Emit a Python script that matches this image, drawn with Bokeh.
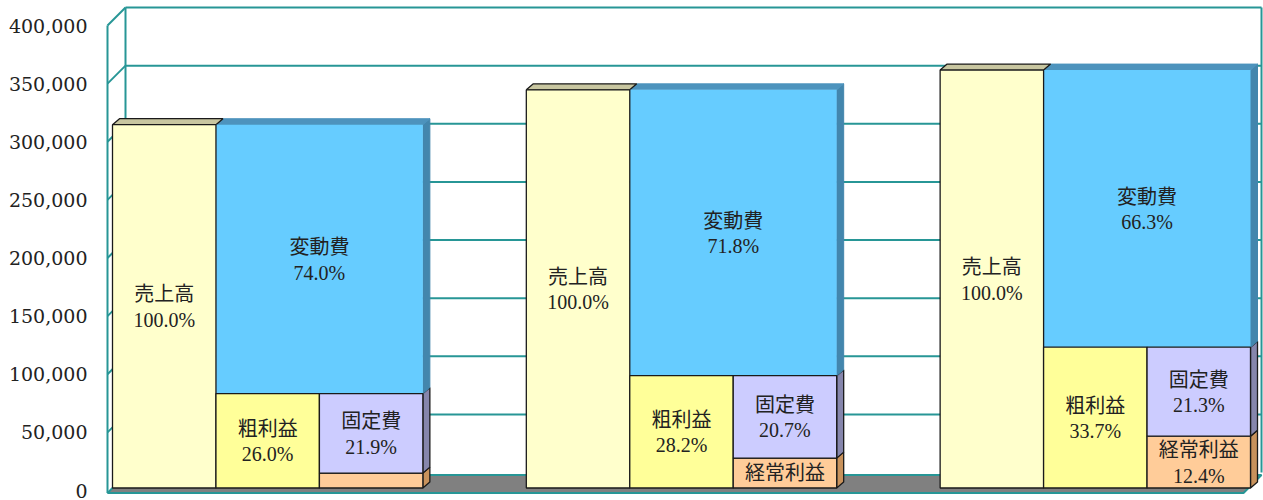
from bokeh.plotting import figure
from bokeh.models import Range1d, FixedTicker, NumeralTickFormatter, ColumnDataSource
from bokeh.core.properties import value
from bokeh.embed import file_html
from bokeh.resources import INLINE

# ---------------- data ----------------
sales = [312500, 342500, 359500]
variable_cost = [231250, 245900, 238350]
gross_profit = [81250, 96600, 121150]
fixed_cost = [68450, 70900, 76600]
ordinary_profit = [12800, 25700, 44550]

sales_pct = ["100.0%", "100.0%", "100.0%"]
variable_pct = ["74.0%", "71.8%", "66.3%"]
gross_pct = ["26.0%", "28.2%", "33.7%"]
fixed_pct = ["21.9%", "20.7%", "21.3%"]
ordinary_pct = ["", "", "12.4%"]
ordinary_name = ["", "経常利益", "経常利益"]

names = {"sales": "売上高", "variable": "変動費", "gross": "粗利益", "fixed": "固定費"}
y_ticks = [0, 50000, 100000, 150000, 200000, 250000, 300000, 350000, 400000]

# ---------------- layout constants (page pixels) ----------------
W, H = 1263, 500
FRAME_L = 100
COL_PX = (1250 - 112) / 11.0    # pixels per column unit
ZERO_Y, TOP_Y = 490.0, 25.0     # page y of 0 and 400,000 on the front plane
U = 400000 / (ZERO_Y - TOP_Y)   # value units per pixel
BASE = 2.5 * U                  # bar bottom (front plane of bars)
BDX, BDY = 7 / COL_PX, 6 * U    # bar depth
WX0 = -5 / COL_PX               # wall front-left x
WDX, WDY = 18 / COL_PX, 18 * U  # wall depth
XR = (1261 - 112) / COL_PX      # right edge of back wall
TEAL = "#279696"

p = figure(width=W, height=H, output_backend="svg", toolbar_location=None,
           x_range=Range1d((FRAME_L - 112) / COL_PX, (W - 112) / COL_PX),
           y_range=Range1d(-(H - ZERO_Y) * U, ZERO_Y * U),
           x_axis_location=None, min_border_left=FRAME_L, min_border_right=0,
           min_border_top=0, min_border_bottom=0)
p.xgrid.visible = False
p.ygrid.visible = False
p.outline_line_color = None
p.background_fill_color = "white"
p.border_fill_color = "white"

ax = p.yaxis[0]
ax.ticker = FixedTicker(ticks=y_ticks)
ax.formatter = NumeralTickFormatter(format="0,0")
ax.axis_line_color = None
ax.major_tick_line_color = None
ax.minor_tick_line_color = None
ax.major_tick_out = 0
ax.minor_tick_out = 0
ax.major_label_standoff = 13
ax.major_label_text_font = "DejaVu Serif"
ax.major_label_text_font_size = "19px"
ax.major_label_text_color = "#222222"

# ---------------- walls ----------------
gl = [v for v in y_ticks if v > 0]
p.segment(x0=[WX0 + WDX] * len(gl), y0=[v + WDY for v in gl],
          x1=[XR] * len(gl), y1=[v + WDY for v in gl], line_color=TEAL, line_width=2)
p.segment(x0=[WX0] * len(gl), y0=gl,
          x1=[WX0 + WDX] * len(gl), y1=[v + WDY for v in gl], line_color=TEAL, line_width=2)
p.segment(x0=[WX0, WX0 + WDX, XR], y0=[-2.5 * U, WDY, WDY],
          x1=[WX0, WX0 + WDX, XR], y1=[y_ticks[-1], y_ticks[-1] + WDY, y_ticks[-1] + WDY],
          line_color=TEAL, line_width=2)
# floor
p.patch(x=[WX0, XR - WDX, XR, WX0 + WDX],
        y=[-2.5 * U, -2.5 * U, WDY - 2.5 * U, WDY - 2.5 * U],
        fill_color="#808080", line_color=TEAL, line_width=2)

# ---------------- bars ----------------
n = len(sales)
gx = [4 * g for g in range(n)]


def side(x_right, bottom, top):
    return ([x_right, x_right + BDX, x_right + BDX, x_right],
            [bottom, bottom + BDY, top + BDY, top])


def topface(x_left, x_right, top):
    return ([x_left, x_left + BDX, x_right + BDX, x_right],
            [top, top + BDY, top + BDY, top])


# side faces
ord_sides = [side(x + 3, BASE, BASE + o) for x, o in zip(gx, ordinary_profit)]
p.patches(xs=[s[0] for s in ord_sides], ys=[s[1] for s in ord_sides],
          fill_color="#c8925c", line_color="#1a1a1a", line_width=1.3)
fix_sides = [side(x + 3, BASE + o, BASE + o + f) for x, o, f in zip(gx, ordinary_profit, fixed_cost)]
p.patches(xs=[s[0] for s in fix_sides], ys=[s[1] for s in fix_sides],
          fill_color="#8686ac", line_color="#1a1a1a", line_width=1.3)
var_sides = [side(x + 3, BASE + gp, BASE + gp + v) for x, gp, v in zip(gx, gross_profit, variable_cost)]
p.patches(xs=[s[0] for s in var_sides], ys=[s[1] for s in var_sides],
          fill_color="#4386ad", line_color="#4386ad", line_width=1)
# top faces
var_tops = [topface(x + 1, x + 3, BASE + gp + v) for x, gp, v in zip(gx, gross_profit, variable_cost)]
p.patches(xs=[s[0] for s in var_tops], ys=[s[1] for s in var_tops],
          fill_color="#4d93bd", line_color="#4d93bd", line_width=1)
sal_tops = [topface(x, x + 1, BASE + s) for x, s in zip(gx, sales)]
p.patches(xs=[s[0] for s in sal_tops], ys=[s[1] for s in sal_tops],
          fill_color="#c8c6a0", line_color="#1a1a1a", line_width=1.3)

# front faces
src = ColumnDataSource(dict(
    sales_l=gx, sales_r=[x + 1 for x in gx], sales_t=[BASE + s for s in sales],
    gross_l=[x + 1 for x in gx], gross_r=[x + 2 for x in gx], gross_t=[BASE + g for g in gross_profit],
    lo_l=[x + 2 for x in gx], lo_r=[x + 3 for x in gx],
    ord_t=[BASE + o for o in ordinary_profit],
    fix_t=[BASE + o + f for o, f in zip(ordinary_profit, fixed_cost)],
    var_l=[x + 1 for x in gx], var_r=[x + 3 for x in gx],
    var_t=[BASE + g + v for g, v in zip(gross_profit, variable_cost)],
    base=[BASE] * n,
))
p.quad(left="var_l", right="var_r", bottom="gross_t", top="var_t", source=src,
       fill_color="#66ccff", line_color=None)
p.quad(left="sales_l", right="sales_r", bottom="base", top="sales_t", source=src,
       fill_color="#ffffcc", line_color="#1a1a1a", line_width=1.3)
p.quad(left="gross_l", right="gross_r", bottom="base", top="gross_t", source=src,
       fill_color="#ffff99", line_color="#1a1a1a", line_width=1.3)
p.quad(left="lo_l", right="lo_r", bottom="base", top="ord_t", source=src,
       fill_color="#ffcc99", line_color="#1a1a1a", line_width=1.3)
p.quad(left="lo_l", right="lo_r", bottom="ord_t", top="fix_t", source=src,
       fill_color="#ccccff", line_color="#1a1a1a", line_width=1.3)

# ---------------- labels ----------------
OFF = 13.5 * U
lx, ly, lt, px_, py_, pt = [], [], [], [], [], []


def add(cx, bottom, top, name, pct):
    c = (bottom + top) / 2
    if pct:
        lx.append(cx); ly.append(c + OFF); lt.append(name)
        px_.append(cx); py_.append(c - OFF); pt.append(pct)
    elif name:
        lx.append(cx); ly.append(c + 2 * U); lt.append(name)


for i, x in enumerate(gx):
    add(x + 0.5, BASE, BASE + sales[i], names["sales"], sales_pct[i])
    add(x + 2.0, BASE + gross_profit[i], BASE + sales[i], names["variable"], variable_pct[i])
    add(x + 1.5, BASE, BASE + gross_profit[i], names["gross"], gross_pct[i])
    add(x + 2.5, BASE + ordinary_profit[i], BASE + ordinary_profit[i] + fixed_cost[i],
        names["fixed"], fixed_pct[i])
    add(x + 2.5, BASE, BASE + ordinary_profit[i], ordinary_name[i], ordinary_pct[i])

p.text(x=lx, y=ly, text=lt, text_align="center", text_baseline="middle",
       text_font=value("Noto Sans CJK JP"), text_font_size="20px", text_color="#222222")
p.text(x=px_, y=py_, text=pt, text_align="center", text_baseline="middle",
       text_font=value("Liberation Serif"), text_font_size="20px", text_color="#222222")

open("out.html", "w").write(file_html(p, INLINE))
